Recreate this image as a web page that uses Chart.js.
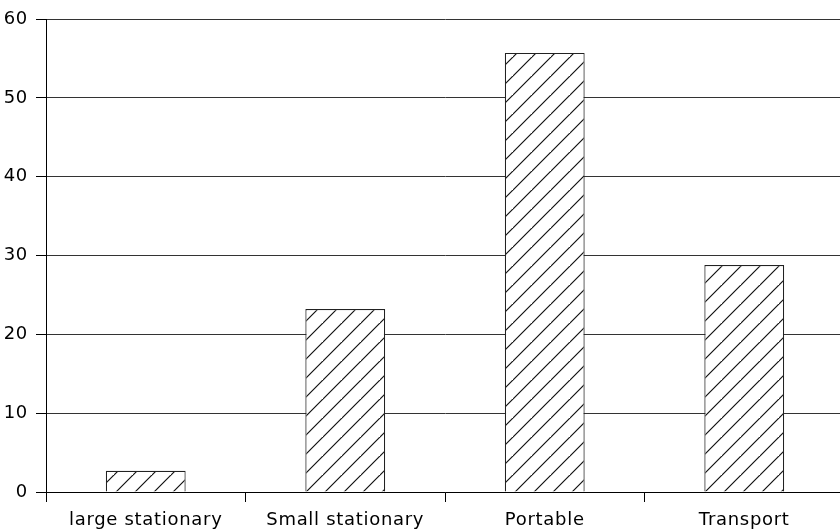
<!DOCTYPE html>
<html><head><meta charset="utf-8">
<script src="https://cdn.jsdelivr.net/npm/chart.js@4/dist/chart.umd.min.js"></script>
<style>html,body{margin:0;padding:0;overflow:hidden;background:#fff;width:840px;height:532px}
#wrap{position:relative;width:844px;height:532px}</style>
</head><body>
<div id="wrap"><canvas id="c"></canvas></div>
<script>
const categories = ["large stationary", "Small stationary", "Portable", "Transport"];
const values = [2.7, 23.2, 55.7, 28.8];
const yTicks = [0, 10, 20, 30, 40, 50, 60];

function hatch() {
  const s = 19;
  const p = document.createElement('canvas');
  p.width = s; p.height = s;
  const g = p.getContext('2d');
  g.fillStyle = '#fff'; g.fillRect(0, 0, s, s);
  g.strokeStyle = '#111'; g.lineWidth = 1.2;
  g.beginPath();
  g.moveTo(-2, s + 2); g.lineTo(s + 2, -2);
  g.moveTo(-2 - s, s + 2); g.lineTo(2, -2);
  g.moveTo(s - 2, 2 * s + 2); g.lineTo(2 * s + 2, s - 2);
  g.stroke();
  return g.createPattern(p, 'repeat');
}
const spacing = {
  id: 'spacing',
  beforeLayout(c) { c.ctx.letterSpacing = '0.7px'; },
  beforeDraw(c) { c.ctx.letterSpacing = '0.7px'; }
};
const font = {family: "DejaVu Sans", size: 18};
new Chart(document.getElementById('c'), {
  type: 'bar',
  data: {labels: categories, datasets: [{data: values, backgroundColor: hatch(), borderColor: '#222', borderWidth: 1.2, barPercentage: 0.4, categoryPercentage: 1}]},
  plugins: [spacing],
  options: {
    responsive: true, maintainAspectRatio: false, animation: false,
    layout: {padding: {top: 19, right: 0, left: 0, bottom: 0}},
    plugins: {legend: {display: false}, tooltip: {enabled: false}},
    scales: {
      x: {
        grid: {drawOnChartArea: false, offset: true, color: '#000', tickLength: 10},
        border: {color: '#000', width: 1},
        ticks: {color: '#000', font: font, padding: 8, maxRotation: 0},
        afterFit: s => { s.height = 40; }
      },
      y: {
        min: 0, max: 60,
        afterBuildTicks: s => { s.ticks = yTicks.map(v => ({value: v})); },
        grid: {color: '#333', tickLength: 10, tickColor: '#000'},
        border: {color: '#000', width: 1},
        ticks: {color: '#000', font: font, padding: 8},
        afterFit: s => { s.width = 46; }
      }
    }
  }
});
</script>
</body></html>
